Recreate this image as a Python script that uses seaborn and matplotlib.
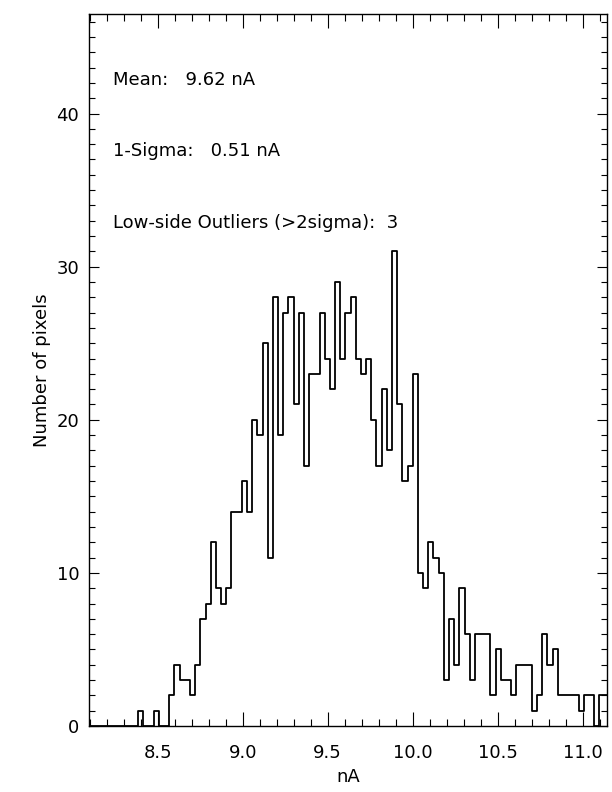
"""
Pixel current histogram (nA) with summary statistics.
"""

import numpy as np
import pandas as pd
import matplotlib
matplotlib.use("Agg")
import matplotlib.pyplot as plt
from matplotlib.ticker import MultipleLocator, FormatStrFormatter
import seaborn as sns


X_MIN = 8.096
X_MAX = 11.143
Y_MAX = 46.5

# counts per bin, bins centred from X_MIN to X_MAX
COUNTS = [
    0, 0, 0, 0, 0, 0, 0, 0, 0, 0,
    1, 0, 0, 1, 0, 0,
    2, 4, 3, 3, 2, 4, 7, 8, 12, 9, 8, 9,
    14, 14, 16, 14, 20, 19, 25, 11, 28, 19, 27, 28,
    21, 27, 17, 23, 23, 27, 24, 22, 29, 24, 27, 28,
    24, 23, 24, 20, 17, 22, 18, 31, 21, 16, 17, 23,
    10, 9, 12, 11, 10, 3, 7, 4, 9, 6, 3, 6,
    6, 6, 2, 5, 3, 3, 2, 4, 4, 4, 1, 2,
    6, 4, 5, 2, 2, 2, 2, 1, 2, 2, 0, 2, 2,
]

STATS_LINES = [
    "Mean:   9.62 nA",
    "1-Sigma:   0.51 nA",
    "Low-side Outliers (>2sigma):  3",
]


def main():
    centers = np.linspace(X_MIN, X_MAX, len(COUNTS))
    df = pd.DataFrame({"nA": centers, "pixels": COUNTS})

    sns.set_style("ticks")
    plt.rcParams["font.family"] = ["DejaVu Sans"]
    plt.rcParams["text.color"] = "black"
    plt.rcParams["axes.labelcolor"] = "black"

    fig = plt.figure(figsize=(6.12, 7.92), dpi=100)
    ax = fig.add_axes([89 / 612, 1 - 726 / 792, (607 - 89) / 612, (726 - 14) / 792])

    sns.lineplot(data=df, x="nA", y="pixels", drawstyle="steps-mid",
                 color="black", linewidth=1.3, ax=ax)

    ax.set_xlim(X_MIN, X_MAX)
    ax.set_ylim(0, Y_MAX)
    ax.xaxis.set_major_locator(MultipleLocator(0.5))
    ax.xaxis.set_minor_locator(MultipleLocator(0.1))
    ax.xaxis.set_major_formatter(FormatStrFormatter("%.1f"))
    ax.yaxis.set_major_locator(MultipleLocator(10))
    ax.yaxis.set_minor_locator(MultipleLocator(1))

    ax.tick_params(which="both", direction="in", top=True, right=True,
                   width=0.8, colors="black", labelsize=13)
    ax.tick_params(axis="x", which="major", length=10, pad=13)
    ax.tick_params(axis="x", which="minor", length=5)
    ax.tick_params(axis="y", which="major", length=7, pad=7)
    ax.tick_params(axis="y", which="minor", length=4)
    for sp in ax.spines.values():
        sp.set_linewidth(1.0)
        sp.set_color("black")

    ax.set_xlabel("nA", fontsize=13, labelpad=4)
    ax.set_ylabel("Number of pixels", fontsize=13, labelpad=4)

    # stats text at 90/80/70 % of y-range
    for i, line in enumerate(STATS_LINES):
        ax.text(8.24, Y_MAX * (0.9 - 0.1 * i), line, fontsize=13, va="baseline")

    fig.savefig("out.png", dpi=100)
    plt.close(fig)


if __name__ == "__main__":
    main()
